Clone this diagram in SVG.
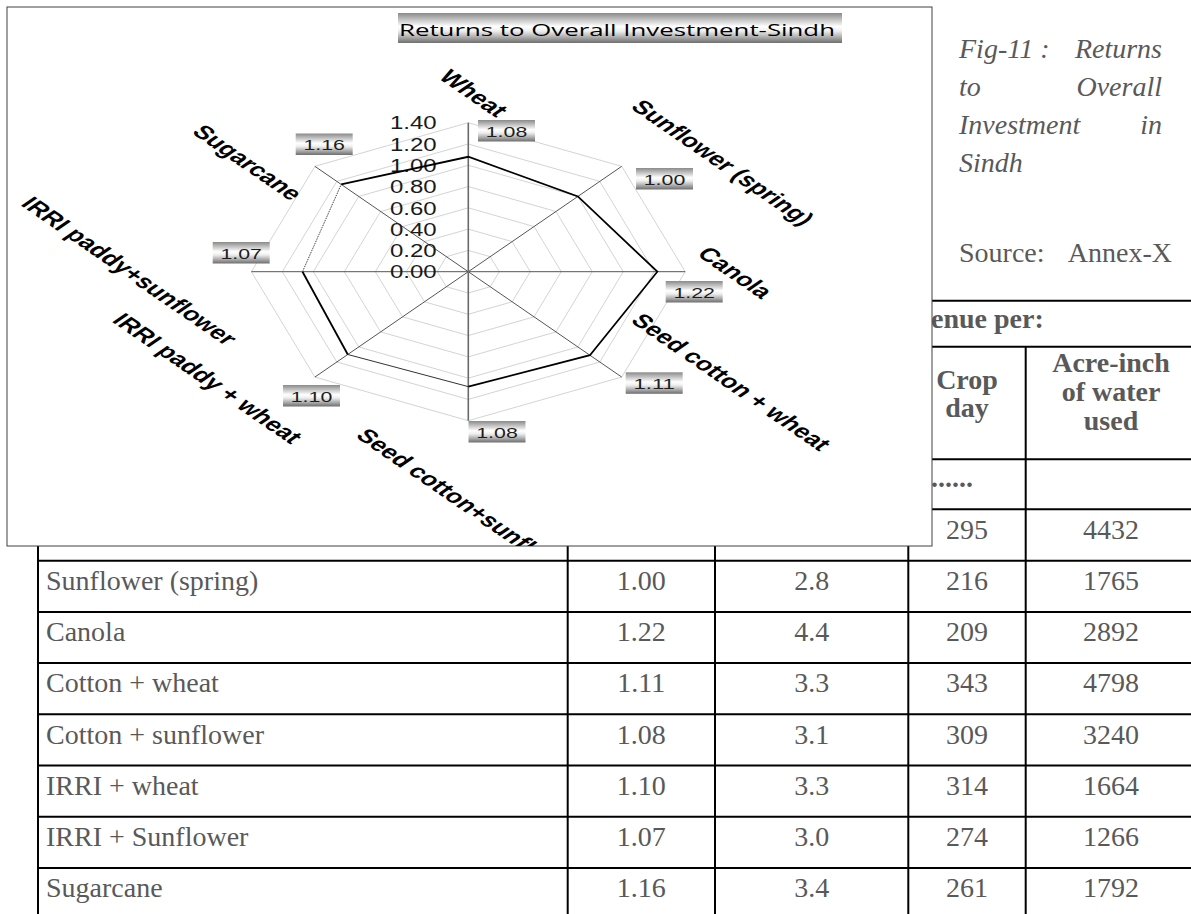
<svg xmlns="http://www.w3.org/2000/svg" width="1191" height="914" viewBox="0 0 1191 914">
<defs>
<linearGradient id="metal" x1="0" y1="0" x2="0" y2="1">
<stop offset="0" stop-color="#8a8a8a"/>
<stop offset="0.45" stop-color="#ffffff"/>
<stop offset="0.6" stop-color="#eeeeee"/>
<stop offset="1" stop-color="#6e6e6e"/>
</linearGradient>
<clipPath id="chartClip"><rect x="7" y="7" width="925" height="539"/></clipPath>
<style>
.tl{stroke:#000;stroke-width:2;fill:none}
.td{font-family:"Liberation Serif","Times New Roman",serif;font-size:28px;fill:#595959}
.tb{font-family:"Liberation Serif","Times New Roman",serif;font-size:28px;font-weight:bold;fill:#595959}
.cap{font-family:"Liberation Serif","Times New Roman",serif;font-size:28px;font-style:italic;fill:#595959}
.ring{fill:none;stroke:#d4d4d4;stroke-width:1}
.ax{stroke:#555;stroke-width:1}
.vb{fill:url(#metal)}
.vt{font-family:"Liberation Sans",Arial,sans-serif;font-size:15.5px;fill:#1e1e1e;text-anchor:middle}
.sc{font-family:"Liberation Sans",Arial,sans-serif;font-size:18px;fill:#1a1a1a;text-anchor:end}
.cat{font-family:"Liberation Sans",Arial,sans-serif;font-size:19px;font-weight:bold;fill:#000}
</style>
</defs>
<rect width="1191" height="914" fill="#fff"/>

<g id="table">
<g id="table-lines">
<line class="tl" x1="932" y1="300.7" x2="1191" y2="300.7"/>
<line class="tl" x1="932" y1="346.7" x2="1191" y2="346.7"/>
<line class="tl" x1="932" y1="459.3" x2="1191" y2="459.3"/>
<line class="tl" x1="932" y1="509.3" x2="1191" y2="509.3"/>
<line class="tl" x1="38" y1="560.7" x2="1191" y2="560.7"/>
<line class="tl" x1="38" y1="611.9" x2="1191" y2="611.9"/>
<line class="tl" x1="38" y1="663.1" x2="1191" y2="663.1"/>
<line class="tl" x1="38" y1="714.3" x2="1191" y2="714.3"/>
<line class="tl" x1="38" y1="765.5" x2="1191" y2="765.5"/>
<line class="tl" x1="38" y1="816.7" x2="1191" y2="816.7"/>
<line class="tl" x1="38" y1="867.9" x2="1191" y2="867.9"/>
<line class="tl" x1="38" y1="546" x2="38" y2="914"/>
<line class="tl" x1="567.7" y1="546" x2="567.7" y2="914"/>
<line class="tl" x1="715" y1="546" x2="715" y2="914"/>
<line class="tl" x1="908.3" y1="546" x2="908.3" y2="914"/>
<line class="tl" x1="1025.7" y1="346.7" x2="1025.7" y2="914"/>
</g>
<g id="table-head">
<text class="tb" x="931" y="328">enue per:</text>
<text class="tb" x="967" y="389" text-anchor="middle">Crop</text>
<text class="tb" x="967" y="417" text-anchor="middle">day</text>
<text class="tb" x="1111" y="372" text-anchor="middle">Acre-inch</text>
<text class="tb" x="1111" y="401" text-anchor="middle">of water</text>
<text class="tb" x="1111" y="430" text-anchor="middle">used</text>
<text class="tb" x="931" y="487">......</text>
</g>
<g id="table-body" class="td">
<text x="967" y="538.8" text-anchor="middle">295</text><text x="1111" y="538.8" text-anchor="middle">4432</text>
<text x="46" y="590">Sunflower (spring)</text><text x="641.3" y="590" text-anchor="middle">1.00</text><text x="811.7" y="590" text-anchor="middle">2.8</text><text x="967" y="590" text-anchor="middle">216</text><text x="1111" y="590" text-anchor="middle">1765</text>
<text x="46" y="641.2">Canola</text><text x="641.3" y="641.2" text-anchor="middle">1.22</text><text x="811.7" y="641.2" text-anchor="middle">4.4</text><text x="967" y="641.2" text-anchor="middle">209</text><text x="1111" y="641.2" text-anchor="middle">2892</text>
<text x="46" y="692.4">Cotton + wheat</text><text x="641.3" y="692.4" text-anchor="middle">1.11</text><text x="811.7" y="692.4" text-anchor="middle">3.3</text><text x="967" y="692.4" text-anchor="middle">343</text><text x="1111" y="692.4" text-anchor="middle">4798</text>
<text x="46" y="743.6">Cotton + sunflower</text><text x="641.3" y="743.6" text-anchor="middle">1.08</text><text x="811.7" y="743.6" text-anchor="middle">3.1</text><text x="967" y="743.6" text-anchor="middle">309</text><text x="1111" y="743.6" text-anchor="middle">3240</text>
<text x="46" y="794.8">IRRI + wheat</text><text x="641.3" y="794.8" text-anchor="middle">1.10</text><text x="811.7" y="794.8" text-anchor="middle">3.3</text><text x="967" y="794.8" text-anchor="middle">314</text><text x="1111" y="794.8" text-anchor="middle">1664</text>
<text x="46" y="846">IRRI + Sunflower</text><text x="641.3" y="846" text-anchor="middle">1.07</text><text x="811.7" y="846" text-anchor="middle">3.0</text><text x="967" y="846" text-anchor="middle">274</text><text x="1111" y="846" text-anchor="middle">1266</text>
<text x="46" y="897.2">Sugarcane</text><text x="641.3" y="897.2" text-anchor="middle">1.16</text><text x="811.7" y="897.2" text-anchor="middle">3.4</text><text x="967" y="897.2" text-anchor="middle">261</text><text x="1111" y="897.2" text-anchor="middle">1792</text>
</g>
</g>

<g id="caption">
<text class="cap" y="58"><tspan x="959">Fig-11 : </tspan><tspan x="1162" text-anchor="end">Returns</tspan></text>
<text class="cap" y="96"><tspan x="959">to </tspan><tspan x="1162" text-anchor="end">Overall</tspan></text>
<text class="cap" y="134"><tspan x="959">Investment </tspan><tspan x="1162" text-anchor="end">in</tspan></text>
<text class="cap" x="959" y="172">Sindh</text>
<text class="td" y="262"><tspan x="959">Source: </tspan><tspan x="1172" text-anchor="end">Annex-X</tspan></text>
</g>

<g id="chart">
<rect id="chart-frame" x="7" y="7" width="925" height="539" fill="#fff" stroke="#404040" stroke-width="1"/>
<g id="chart-title">
<rect x="398" y="13" width="444" height="30" fill="url(#metal)"/>
<text x="617" y="36" text-anchor="middle" textLength="436" lengthAdjust="spacingAndGlyphs" font-family="'Open Sans','Noto Sans',sans-serif" font-size="16.5" fill="#000">Returns to Overall Investment-Sindh</text>
</g>
<g id="grid" transform="translate(468.3 271.7) scale(1.456 1)">
<polygon class="ring" vector-effect="non-scaling-stroke" points="0,-21.29 15.05,-15.05 21.29,0 15.05,15.05 0,21.29 -15.05,15.05 -21.29,0 -15.05,-15.05"/>
<polygon class="ring" vector-effect="non-scaling-stroke" points="0,-42.57 30.1,-30.1 42.57,0 30.1,30.1 0,42.57 -30.1,30.1 -42.57,0 -30.1,-30.1"/>
<polygon class="ring" vector-effect="non-scaling-stroke" points="0,-63.86 45.15,-45.15 63.86,0 45.15,45.15 0,63.86 -45.15,45.15 -63.86,0 -45.15,-45.15"/>
<polygon class="ring" vector-effect="non-scaling-stroke" points="0,-85.14 60.21,-60.21 85.14,0 60.21,60.21 0,85.14 -60.21,60.21 -85.14,0 -60.21,-60.21"/>
<polygon class="ring" vector-effect="non-scaling-stroke" points="0,-106.43 75.26,-75.26 106.43,0 75.26,75.26 0,106.43 -75.26,75.26 -106.43,0 -75.26,-75.26"/>
<polygon class="ring" vector-effect="non-scaling-stroke" points="0,-127.71 90.31,-90.31 127.71,0 90.31,90.31 0,127.71 -90.31,90.31 -127.71,0 -90.31,-90.31"/>
<polygon class="ring" vector-effect="non-scaling-stroke" points="0,-149 105.36,-105.36 149,0 105.36,105.36 0,149 -105.36,105.36 -149,0 -105.36,-105.36"/>
<line class="ax" vector-effect="non-scaling-stroke" x1="-105.36" y1="-105.36" x2="105.36" y2="105.36"/>
<line class="ax" vector-effect="non-scaling-stroke" x1="105.36" y1="-105.36" x2="-105.36" y2="105.36"/>
<line class="ax" vector-effect="non-scaling-stroke" x1="-149" y1="0" x2="149" y2="0"/>
<line vector-effect="non-scaling-stroke" x1="0" y1="-149" x2="0" y2="149" stroke="#6a6a6a" stroke-width="1.6"/>
</g>
<g id="scale-labels" class="sc">
<text x="436.7" y="129.3" textLength="46.7" lengthAdjust="spacingAndGlyphs">1.40</text>
<text x="436.7" y="150.6" textLength="46.7" lengthAdjust="spacingAndGlyphs">1.20</text>
<text x="436.7" y="171.9" textLength="46.7" lengthAdjust="spacingAndGlyphs">1.00</text>
<text x="436.7" y="193.2" textLength="46.7" lengthAdjust="spacingAndGlyphs">0.80</text>
<text x="436.7" y="214.5" textLength="46.7" lengthAdjust="spacingAndGlyphs">0.60</text>
<text x="436.7" y="235.8" textLength="46.7" lengthAdjust="spacingAndGlyphs">0.40</text>
<text x="436.7" y="257.1" textLength="46.7" lengthAdjust="spacingAndGlyphs">0.20</text>
<text x="436.7" y="278.4" textLength="46.7" lengthAdjust="spacingAndGlyphs">0.00</text>
</g>
<g id="series" transform="translate(468.3 271.7) scale(1.456 1)" fill="none">
<polyline vector-effect="non-scaling-stroke" stroke="#000" stroke-width="1.8" stroke-linejoin="miter" points="-87.3,-87.3 0,-114.94 75.26,-75.26 129.84,0 83.54,83.54 0,114.94"/>
<line vector-effect="non-scaling-stroke" stroke="#333" stroke-width="1" x1="0" y1="114.94" x2="-82.78" y2="82.78"/>
<line vector-effect="non-scaling-stroke" stroke="#000" stroke-width="1.8" x1="-82.78" y1="82.78" x2="-113.88" y2="0"/>
<line vector-effect="non-scaling-stroke" stroke="#444" stroke-width="1" stroke-dasharray="1.5 1" x1="-113.88" y1="0" x2="-87.3" y2="-87.3"/>
</g>
<g id="value-labels">
<rect class="vb" x="478" y="120" width="57" height="21.5"/><text class="vt" x="506.5" y="136.8" textLength="41.5" lengthAdjust="spacingAndGlyphs">1.08</text>
<rect class="vb" x="636" y="168" width="57" height="21.5"/><text class="vt" x="664.5" y="184.8" textLength="41.5" lengthAdjust="spacingAndGlyphs">1.00</text>
<rect class="vb" x="665.7" y="281" width="57" height="21.5"/><text class="vt" x="694.2" y="297.8" textLength="41.5" lengthAdjust="spacingAndGlyphs">1.22</text>
<rect class="vb" x="625.7" y="372.3" width="57" height="21.5"/><text class="vt" x="654.2" y="389.1" textLength="41.5" lengthAdjust="spacingAndGlyphs">1.11</text>
<rect class="vb" x="468.5" y="421" width="57" height="21.5"/><text class="vt" x="497" y="437.8" textLength="41.5" lengthAdjust="spacingAndGlyphs">1.08</text>
<rect class="vb" x="283" y="385" width="57" height="21.5"/><text class="vt" x="311.5" y="401.8" textLength="41.5" lengthAdjust="spacingAndGlyphs">1.10</text>
<rect class="vb" x="212.7" y="242" width="57" height="21.5"/><text class="vt" x="241.2" y="258.8" textLength="41.5" lengthAdjust="spacingAndGlyphs">1.07</text>
<rect class="vb" x="295.7" y="133.5" width="57" height="21.5"/><text class="vt" x="324.2" y="150.3" textLength="41.5" lengthAdjust="spacingAndGlyphs">1.16</text>
</g>
<g id="category-labels" class="cat" clip-path="url(#chartClip)">
<text transform="translate(437.6 77.8) scale(1.456 1) rotate(45)">Wheat</text>
<text transform="translate(629.7 107.8) scale(1.456 1) rotate(45)">Sunflower (spring)</text>
<text transform="translate(696 254.8) scale(1.456 1) rotate(45)">Canola</text>
<text transform="translate(629.7 321.5) scale(1.456 1) rotate(45)">Seed cotton + wheat</text>
<text transform="translate(354.7 436.5) scale(1.456 1) rotate(45)">Seed cotton+sunfl</text>
<text transform="translate(111 321.3) scale(1.456 1) rotate(45)">IRRI paddy + wheat</text>
<text transform="translate(19.7 204.8) scale(1.456 1) rotate(45)">IRRI paddy+sunflower</text>
<text transform="translate(191 132.8) scale(1.456 1) rotate(45)">Sugarcane</text>
</g>
</g>
</svg>
